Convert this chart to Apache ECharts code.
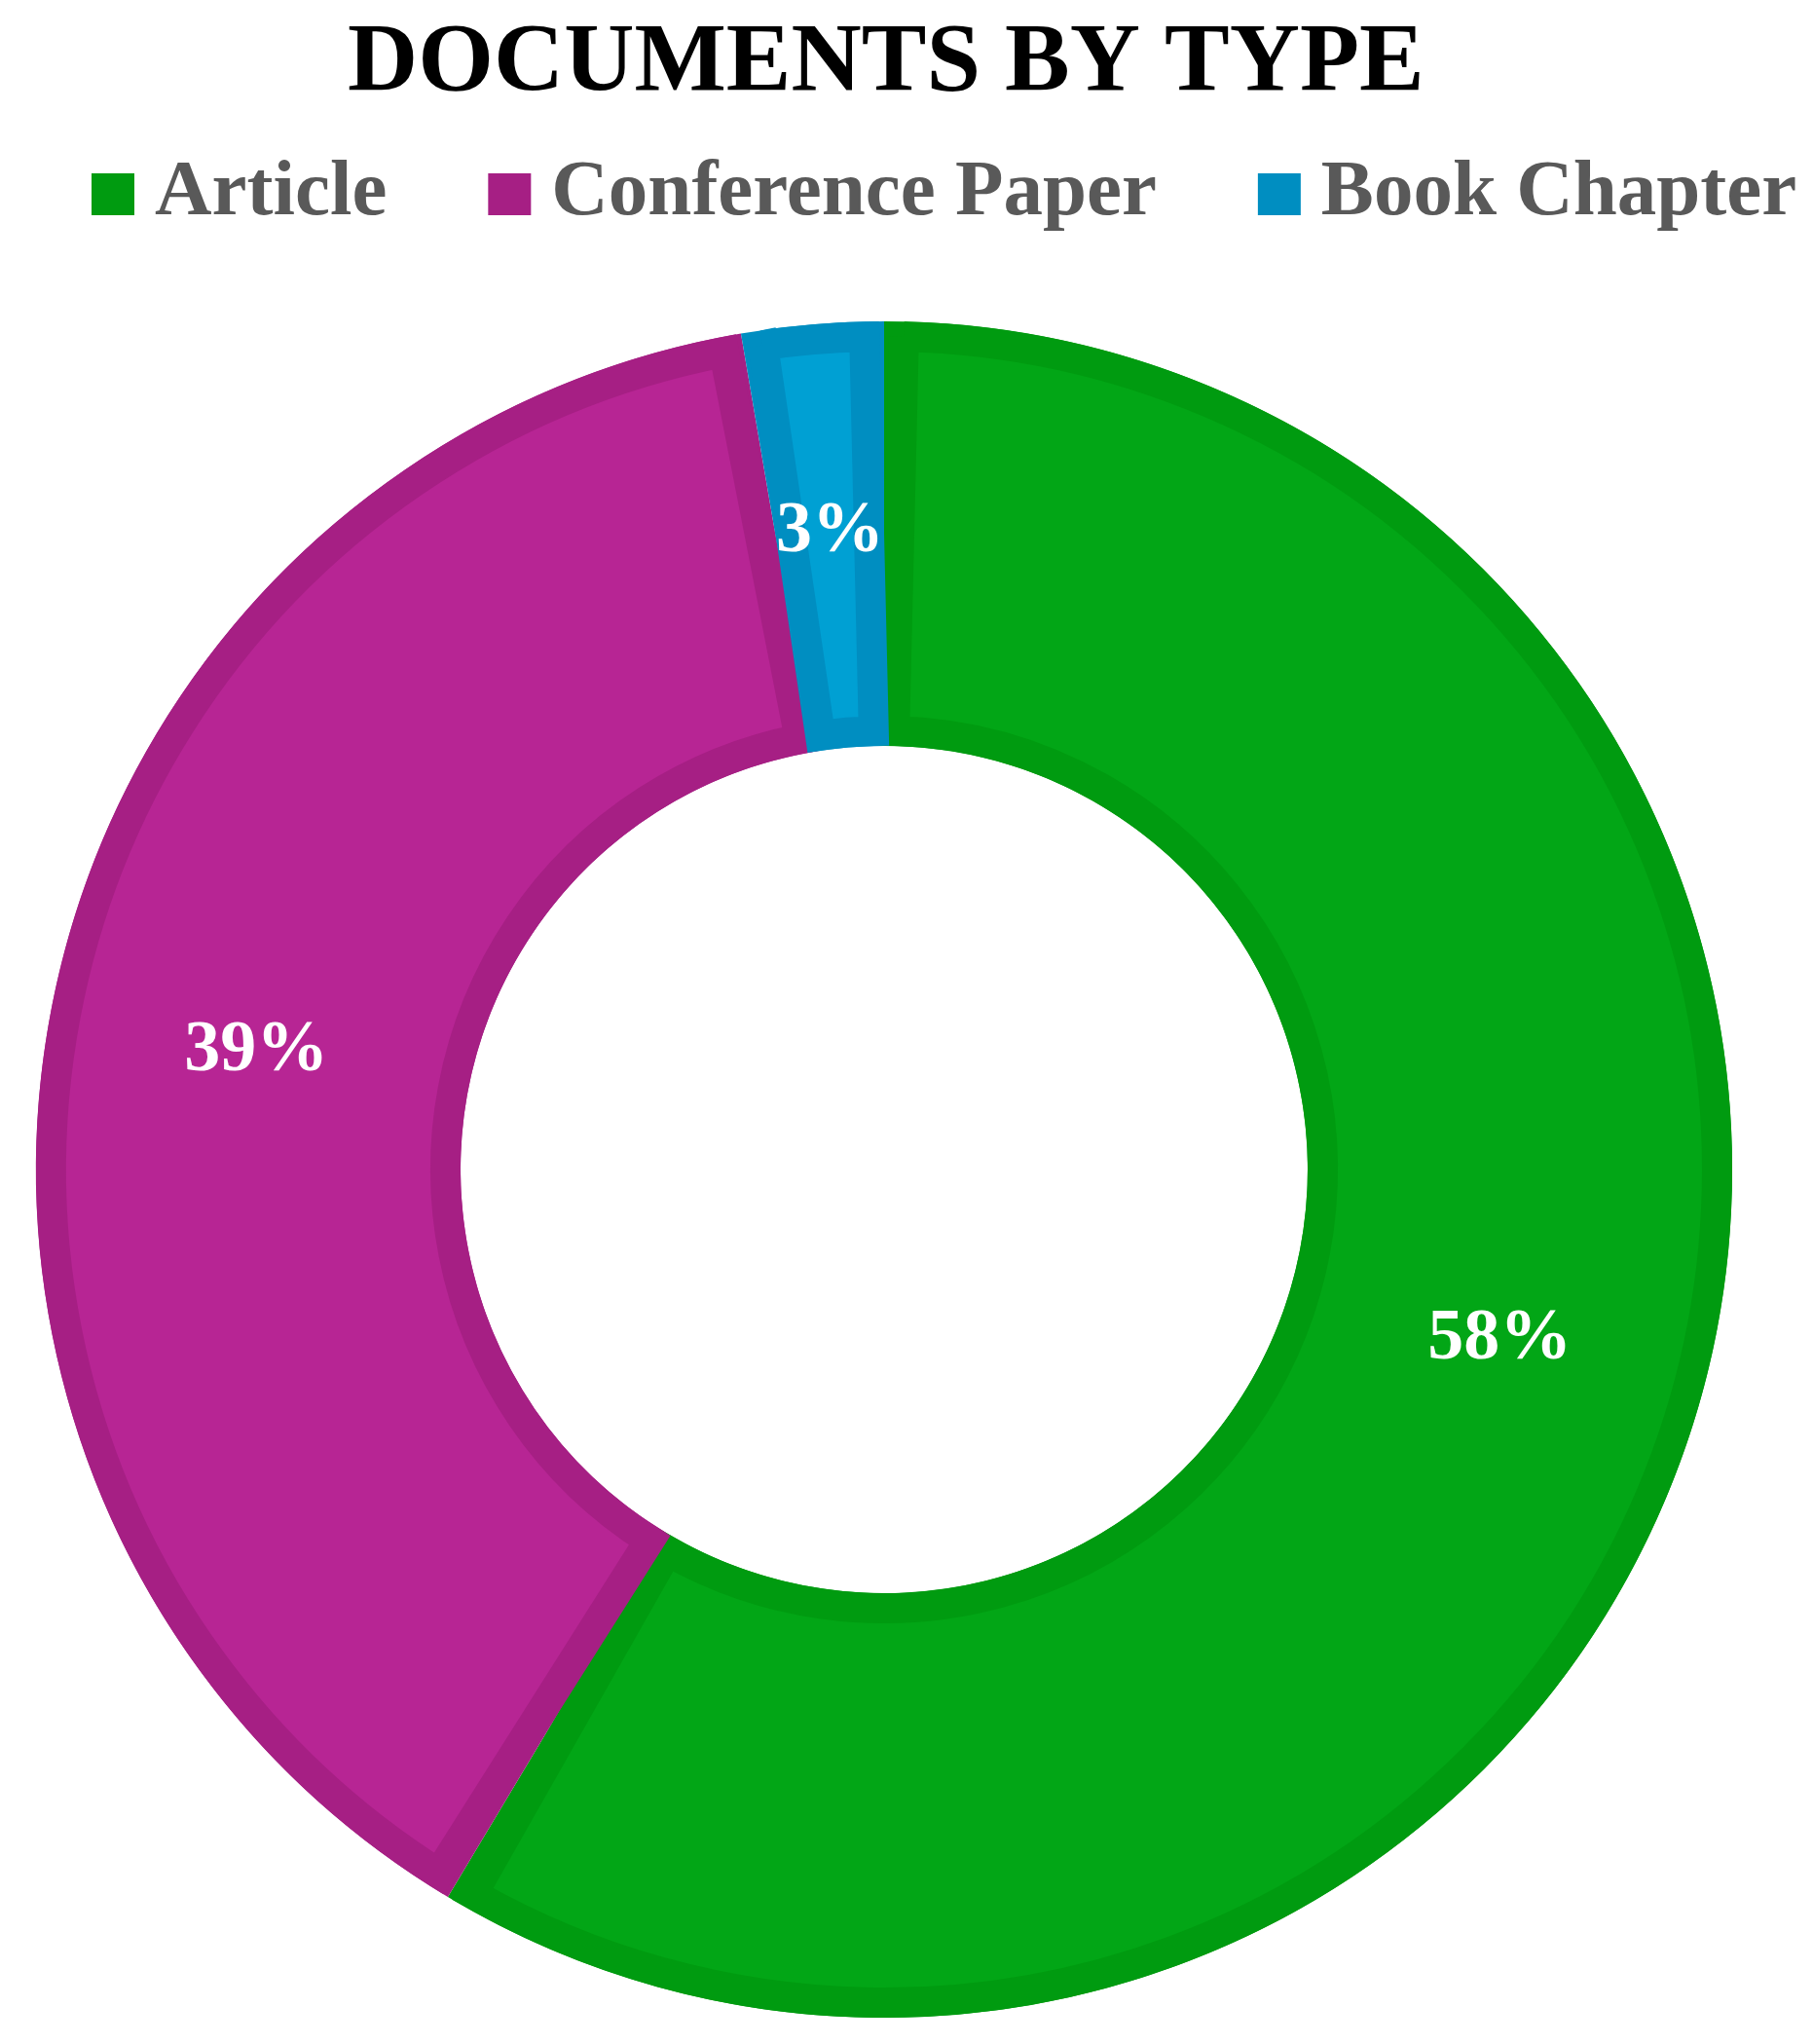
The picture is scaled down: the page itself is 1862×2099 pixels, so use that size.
<!DOCTYPE html>
<html>
<head>
<meta charset="utf-8">
<script src="https://cdn.jsdelivr.net/npm/echarts@6/dist/echarts.min.js"></script>
<style>
  html, body { margin: 0; padding: 0; background: #ffffff; }
  #chart { width: 1862px; height: 2099px; }
</style>
</head>
<body>
<div id="chart"></div>
<script>
// ---- data ----
const categories = ['Article', 'Conference Paper', 'Book Chapter'];
const shares = [58.6, 38.7, 2.7];            // slice sizes (percent of documents)
const labelTexts = ['58%', '39%', '3%'];     // data labels as printed
const titleText = 'DOCUMENTS BY TYPE';

// ---- styling ----
const lightColors = ['#02A616', '#B72594', '#00A0D3'];
const darkColors  = ['#009B10', '#A61F84', '#008EC1'];
const serif = '"Liberation Serif", "DejaVu Serif", serif';

const CX = 908, CY = 1201, R_IN = 435, R_OUT = 871, BAND = 31;
const midR = (R_IN + R_OUT) / 2;
const padDeg = (BAND / midR) * 180 / Math.PI;

const chart = echarts.init(document.getElementById('chart'), null, { renderer: 'canvas' });

const baseData = categories.map((c, i) => ({
  name: c, value: shares[i],
  itemStyle: { color: darkColors[i], borderWidth: 0 }
}));
const topData = categories.map((c, i) => ({
  name: c, value: shares[i],
  itemStyle: { color: lightColors[i], borderColor: darkColors[i], borderWidth: BAND, borderJoin: 'miter' },
  label: { formatter: labelTexts[i] }
}));

chart.setOption({
  animation: false,
  backgroundColor: '#ffffff',
  title: {
    text: titleText,
    left: 352,
    top: 11,
    textStyle: { fontFamily: serif, fontWeight: 'bold', fontSize: 100, color: '#000000' }
  },
  legend: {
    left: 89,
    top: 154,
    width: 1770,
    itemWidth: 44,
    itemHeight: 43,
    itemGap: 104,
    icon: 'rect',
    data: categories.map((c, i) => ({ name: c, itemStyle: { color: darkColors[i] } })),
    textStyle: { fontFamily: serif, fontWeight: 'bold', fontSize: 81, color: '#595959', padding: [0, 0, 0, 16] }
  },
  series: [
    {
      type: 'pie',
      silent: true,
      center: [CX, CY],
      radius: [R_IN, R_OUT],
      startAngle: 90,
      clockwise: true,
      label: { show: false },
      labelLine: { show: false },
      data: baseData
    },
    {
      type: 'pie',
      silent: true,
      center: [CX, CY],
      radius: [R_IN + BAND / 2, R_OUT - BAND / 2],
      startAngle: 90,
      clockwise: true,
      padAngle: padDeg,
      label: {
        show: true,
        position: 'inside',
        fontFamily: serif,
        fontWeight: 'bold',
        fontSize: 74,
        color: '#ffffff'
      },
      labelLine: { show: false },
      data: topData
    }
  ]
});
</script>
</body>
</html>
